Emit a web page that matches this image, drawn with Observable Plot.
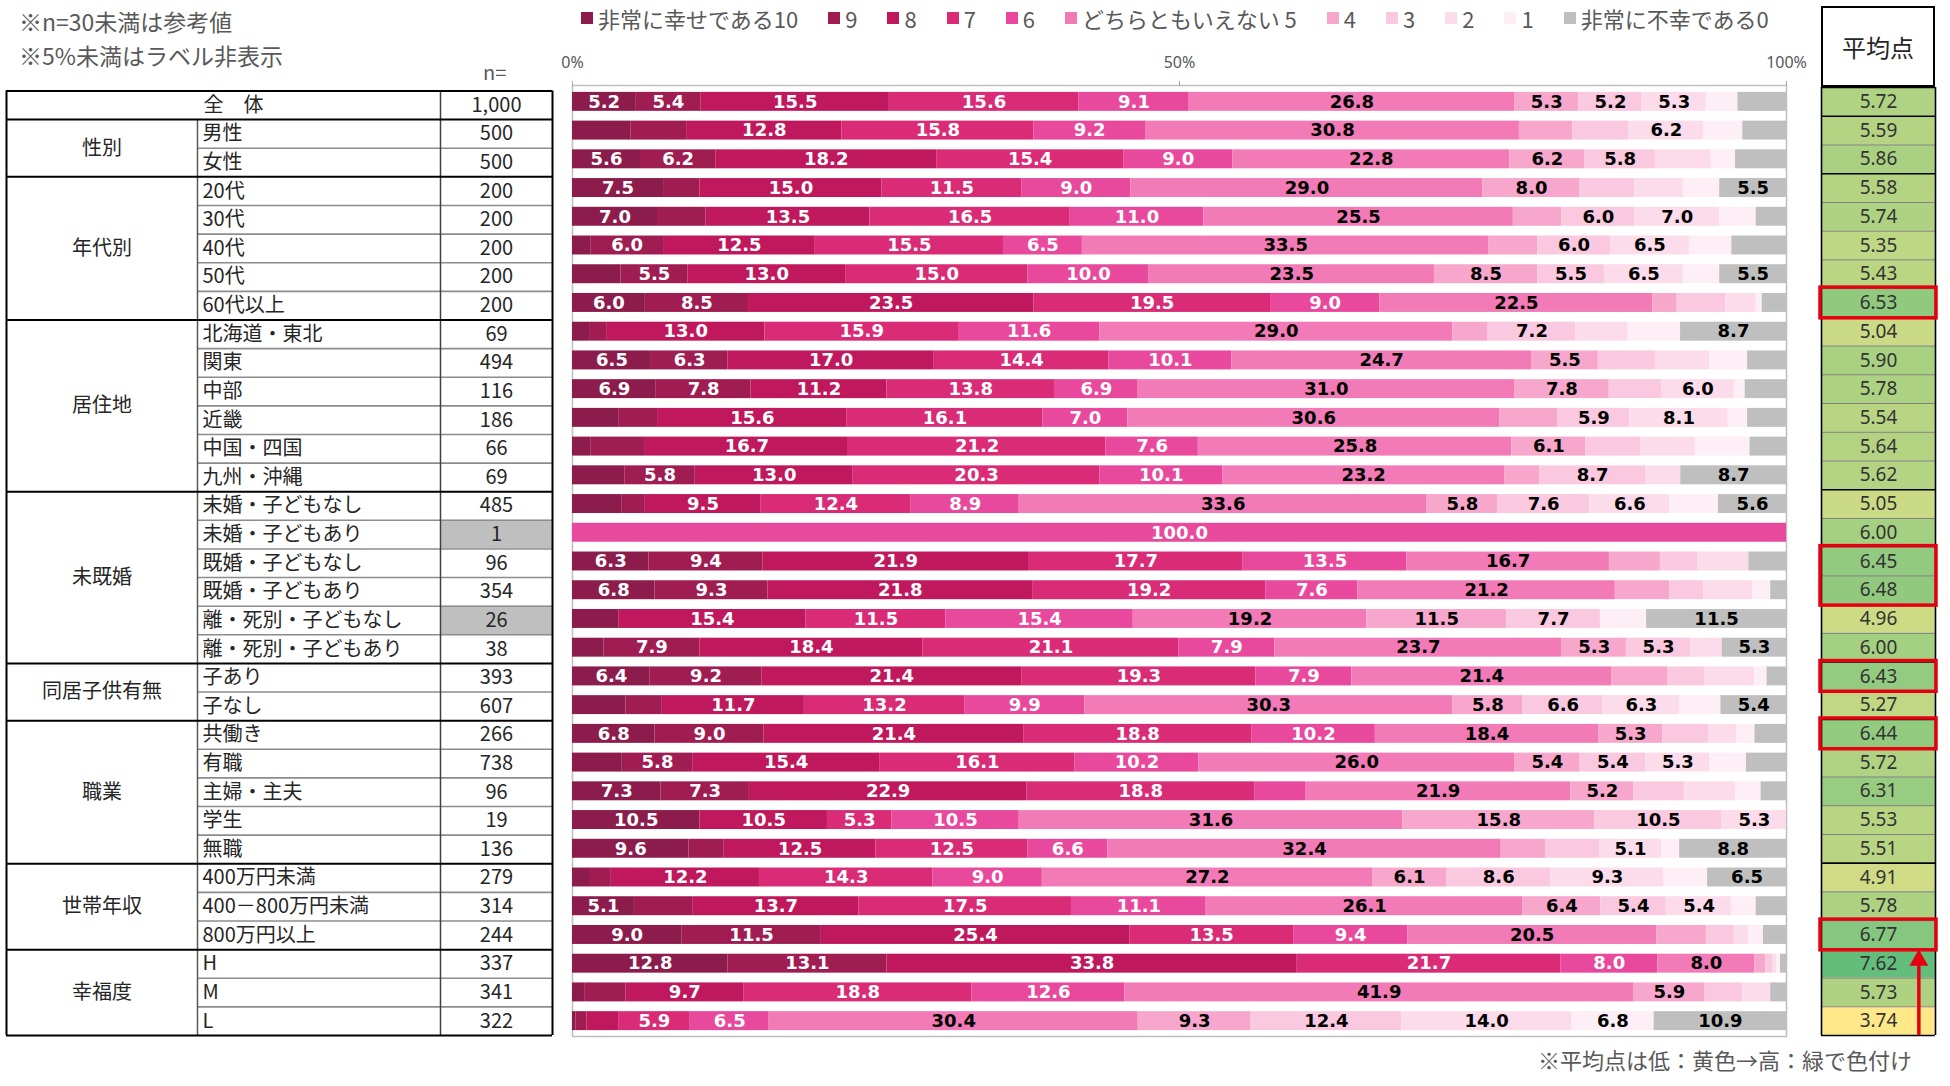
<!DOCTYPE html>
<html><head><meta charset="utf-8">
<script src="https://cdn.jsdelivr.net/npm/d3@7"></script>
<script src="https://cdn.jsdelivr.net/npm/@observablehq/plot@0.6"></script>
<style>
body{margin:0;background:#fff;}
#wrap{position:relative;width:1950px;height:1086px;overflow:hidden;background:#fff;font-family:"Noto Sans CJK JP",sans-serif;}
#wrap svg{position:absolute;left:0;top:0;}
.txt{position:absolute;color:#595959;white-space:nowrap;line-height:1;}
#legend{position:absolute;left:581px;top:7px;display:flex;align-items:center;font-size:22px;color:#595959;white-space:nowrap;line-height:1;gap:30px;}
#legend .it{display:flex;align-items:center;}
#legend .sw{width:12px;height:12px;margin-right:5px;}
#mhead{position:absolute;left:1821px;top:6px;width:110px;height:77px;border:2px solid #000;display:flex;align-items:center;justify-content:center;font-size:24px;color:#262626;background:#fff;}
</style></head>
<body><div id="wrap"></div>
<script>
// ---------- data ----------
const rows = ["全　体","男性","女性","20代","30代","40代","50代","60代以上","北海道・東北","関東","中部","近畿","中国・四国","九州・沖縄","未婚・子どもなし","未婚・子どもあり","既婚・子どもなし","既婚・子どもあり","離・死別・子どもなし","離・死別・子どもあり","子あり","子なし","共働き","有職","主婦・主夫","学生","無職","400万円未満","400－800万円未満","800万円以上","H","M","L"];
const groupNames = ["性別","年代別","居住地","未既婚","同居子供有無","職業","世帯年収","幸福度"];
const groupSizes = [2,5,6,6,2,5,3,3];
const nValues = [1000,500,500,200,200,200,200,200,69,494,116,186,66,69,485,1,96,354,26,38,393,607,266,738,96,19,136,279,314,244,337,341,322];
const means = [5.72,5.59,5.86,5.58,5.74,5.35,5.43,6.53,5.04,5.90,5.78,5.54,5.64,5.62,5.05,6.00,6.45,6.48,4.96,6.00,6.43,5.27,6.44,5.72,6.31,5.53,5.51,4.91,5.78,6.77,7.62,5.73,3.74];
const shadedRows = ["未婚・子どもあり","離・死別・子どもなし"];
const highlightRows = ["60代以上","既婚・子どもなし","既婚・子どもあり","子あり","共働き","800万円以上"];
const scoreLabels = ["非常に幸せである10","9","8","7","6","どちらともいえない 5","4","3","2","1","非常に不幸である0"];
const axisTicks = [0,50,100];
// shares (%) per row, score 10 → 0
const dist = [
 [5.2,5.4,15.5,15.6,9.1,26.8,5.3,5.2,5.3,2.6,4.0],
 [4.8,4.6,12.8,15.8,9.2,30.8,4.4,4.6,6.2,3.2,3.6],
 [5.6,6.2,18.2,15.4,9.0,22.8,6.2,5.8,4.6,2.0,4.2],
 [7.5,3.0,15.0,11.5,9.0,29.0,8.0,4.5,4.0,3.0,5.5],
 [7.0,4.0,13.5,16.5,11.0,25.5,4.0,6.0,7.0,3.0,2.5],
 [1.5,6.0,12.5,15.5,6.5,33.5,4.0,6.0,6.5,3.5,4.5],
 [4.0,5.5,13.0,15.0,10.0,23.5,8.5,5.5,6.5,3.0,5.5],
 [6.0,8.5,23.5,19.5,9.0,22.5,2.0,4.0,2.5,0.5,2.0],
 [1.4,1.4,13.0,15.9,11.6,29.0,2.9,7.2,4.3,4.3,8.7],
 [6.5,6.3,17.0,14.4,10.1,24.7,5.5,4.7,4.5,3.1,3.2],
 [6.9,7.8,11.2,13.8,6.9,31.0,7.8,4.3,6.0,0.9,3.4],
 [3.8,3.2,15.6,16.1,7.0,30.6,4.8,5.9,8.1,1.6,3.2],
 [1.5,4.5,16.7,21.2,7.6,25.8,6.1,4.5,4.5,4.5,3.0],
 [4.3,5.8,13.0,20.3,10.1,23.2,2.9,8.7,2.9,0,8.7],
 [4.1,1.9,9.5,12.4,8.9,33.6,5.8,7.6,6.6,4.0,5.6],
 [0,0,0,0,100,0,0,0,0,0,0],
 [6.3,9.4,21.9,17.7,13.5,16.7,4.2,3.1,4.2,0,3.1],
 [6.8,9.3,21.8,19.2,7.6,21.2,4.5,2.8,4.0,1.5,1.3],
 [3.8,0,15.4,11.5,15.4,19.2,11.5,7.7,0,3.8,11.5],
 [2.6,7.9,18.4,21.1,7.9,23.7,5.3,5.3,2.6,0,5.3],
 [6.4,9.2,21.4,19.3,7.9,21.4,4.6,3.1,4.1,1.0,1.6],
 [4.4,3.0,11.7,13.2,9.9,30.3,5.8,6.6,6.3,3.4,5.4],
 [6.8,9.0,21.4,18.8,10.2,18.4,5.3,3.8,2.3,1.5,2.6],
 [4.1,5.8,15.4,16.1,10.2,26.0,5.4,5.4,5.3,3.0,3.3],
 [7.3,7.3,22.9,18.8,4.2,21.9,5.2,4.2,4.2,2.1,2.1],
 [10.5,0,10.5,5.3,10.5,31.6,15.8,10.5,5.3,0,0],
 [9.6,2.9,12.5,12.5,6.6,32.4,3.7,4.4,5.1,1.5,8.8],
 [1.4,1.8,12.2,14.3,9.0,27.2,6.1,8.6,9.3,3.6,6.5],
 [5.1,4.8,13.7,17.5,11.1,26.1,6.4,5.4,5.4,2.0,2.5],
 [9.0,11.5,25.4,13.5,9.4,20.5,4.1,2.3,1.2,1.2,1.9],
 [12.8,13.1,33.8,21.7,8.0,8.0,0.9,0.6,0.3,0.3,0.5],
 [1.0,3.4,9.7,18.8,12.6,41.9,5.9,3.1,2.3,0,1.3],
 [0.3,0.9,2.6,5.9,6.5,30.4,9.3,12.4,14.0,6.8,10.9]
];

// ---------- styles / layout ----------
const palette = ["#8c1c4b","#a01d52","#c0185c","#d92b76","#e9499c","#f27ab7","#f7a7cc","#fac8df","#fcdcea","#feeef5","#bfbfbf"];
const RED = "#e50012";
const N = rows.length;
const wrap = document.getElementById("wrap");

// derived structures
const groups = [];
let start = 1;
groupNames.forEach((g,k)=>{ groups.push({name:g, start, size:groupSizes[k]}); start += groupSizes[k]; });
const groupBounds = [0, ...groups.map(g=>g.start), N];
const innerBounds = d3.range(1, N).filter(b => !groupBounds.includes(b));
const table = rows.map((r,i)=>({i, label:r, n:nValues[i], mean:means[i]}));

// ---------- notes / legend ----------
function addText(txt, css){ const d=document.createElement("div"); d.className="txt"; d.textContent=txt; Object.assign(d.style, css); wrap.appendChild(d); return d; }
addText("※n=30未満は参考値", {left:"19px", top:"10px", fontSize:"23px"});
addText("※5%未満はラベル非表示", {left:"19px", top:"44px", fontSize:"23px"});
addText("n=", {left:"483px", top:"62px", fontSize:"20px"});
addText("※平均点は低：黄色→高：緑で色付け", {right:"38px", top:"1048px", fontSize:"22px"});

const leg = document.createElement("div"); leg.id="legend";
scoreLabels.forEach((s,k)=>{
  const it=document.createElement("div"); it.className="it";
  const sw=document.createElement("div"); sw.className="sw"; sw.style.background=palette[k];
  const t=document.createElement("span"); t.textContent=s;
  it.appendChild(sw); it.appendChild(t); leg.appendChild(it);
});
wrap.appendChild(leg);

// ---------- table (left) ----------
const c0=6, c1=197, c2=440, c3=552;
const tFont = {fontFamily:"Noto Sans CJK JP", fontSize:20, fill:"#262626"};
const tablePlot = Plot.plot({
  width:1950, height:1086, margin:0,
  style:{background:"transparent", overflow:"visible"},
  x:{type:"identity", axis:null},
  y:{domain:[0,N], range:[90.5,1035], axis:null},
  marks:[
    Plot.rect(table.filter(d=>shadedRows.includes(d.label)), {x1:c2, x2:c3, y1:d=>d.i, y2:d=>d.i+1, fill:"#bfbfbf"}),
    Plot.ruleY(innerBounds, {x1:c1, x2:c3, stroke:"#8c8c8c", strokeWidth:1.6}),
    Plot.ruleX([c1], {y1:1, y2:N, stroke:"#595959", strokeWidth:1.5}),
    Plot.ruleX([c2], {y1:0, y2:N, stroke:"#404040", strokeWidth:1.5}),
    Plot.ruleY(groupBounds, {x1:c0, x2:c3, stroke:"#000", strokeWidth:2}),
    Plot.ruleX([c0,c3], {y1:0, y2:N, stroke:"#000", strokeWidth:2}),
    Plot.text(groups, {x:(c0+c1)/2, y:d=>d.start+d.size/2, text:"name", ...tFont}),
    Plot.text(table.slice(0,1), {x:(c0+c2)/2+10, y:d=>d.i+0.5, text:"label", ...tFont}),
    Plot.text(table.slice(1), {x:c1+5, y:d=>d.i+0.5, text:"label", textAnchor:"start", ...tFont}),
    Plot.text(table, {x:(c2+c3)/2, y:d=>d.i+0.5, text:d=>d3.format(",")(d.n), ...tFont})
  ]
});
wrap.appendChild(tablePlot);

// ---------- stacked bars ----------
const segs = [];
dist.forEach((vals,i)=>{
  const tot = d3.sum(vals); let c=0;
  vals.forEach((v,k)=>{ if(v>0){ segs.push({i, k, score:scoreLabels[k], v, x1:c/tot*100, x2:(c+v)/tot*100}); } c+=v; });
});
const lab = segs.filter(d=>d.v>=5);
const lFont = {fontFamily:"DejaVu Sans", fontWeight:"bold", fontSize:18};
const barPlot = Plot.plot({
  width:1950, height:1086,
  marginLeft:572, marginRight:164, marginTop:85, marginBottom:50,
  style:{background:"transparent", overflow:"visible"},
  x:{domain:[0,100]},
  y:{domain:[0,N], range:[87,1035], axis:null},
  color:{domain:scoreLabels, range:palette},
  marks:[
    Plot.frame({stroke:"#bfbfbf", strokeWidth:1.5}),
    Plot.axisX({anchor:"top", ticks:axisTicks, tickFormat:d=>d+"%", tickSize:5, tickPadding:13, fontSize:16, fontFamily:"Noto Sans", color:"#595959", stroke:"#a6a6a6"}),
    Plot.rect(segs, {x1:"x1", x2:"x2", y1:d=>d.i+0.17, y2:d=>d.i+0.83, fill:"score"}),
    Plot.text(lab.filter(d=>d.k<=4), {x:d=>(d.x1+d.x2)/2, y:d=>d.i+0.5, text:d=>d.v.toFixed(1), fill:"white", ...lFont}),
    Plot.text(lab.filter(d=>d.k>4), {x:d=>(d.x1+d.x2)/2, y:d=>d.i+0.5, text:d=>d.v.toFixed(1), fill:"black", ...lFont})
  ]
});
wrap.appendChild(barPlot);

// ---------- mean column ----------
const runs = [];
table.forEach(d=>{
  if(!highlightRows.includes(d.label)) return;
  const last = runs[runs.length-1];
  if(last && last.end===d.i-1) last.end=d.i; else runs.push({start:d.i, end:d.i});
});
const bottomRow = table[table.length-1].i + 1;
const meanPlot = Plot.plot({
  width:1950, height:1086,
  marginLeft:1821, marginRight:15, marginTop:87, marginBottom:51,
  style:{background:"transparent", overflow:"visible"},
  x:{domain:[0,1], axis:null},
  y:{domain:[0,N], range:[87,1035], axis:null},
  color:{type:"linear", domain:[d3.min(means), d3.max(means)], range:["#ffe88a","#63be7b"]},
  marks:[
    Plot.rect(table, {x1:0, x2:1, y1:d=>d.i, y2:d=>d.i+1, fill:"mean"}),
    Plot.ruleY(innerBounds, {stroke:"#7f7f7f", strokeWidth:1}),
    Plot.ruleY(groupBounds, {stroke:"#000", strokeWidth:1.6}),
    Plot.ruleX([0,1], {stroke:"#000", strokeWidth:1.6}),
    Plot.text(table, {x:0.5, y:d=>d.i+0.5, text:d=>d.mean.toFixed(2), fontFamily:"Noto Sans", fontSize:19, fill:"#333"}),
    Plot.rect(runs, {x1:0, x2:1, y1:"start", y2:d=>d.end+1, stroke:RED, strokeWidth:3.5, fill:"none", inset:-1}),
    Plot.ruleX([0.854], {y1:bottomRow, y2:30.5, stroke:RED, strokeWidth:3.5}),
    Plot.dot([0.854], {x:d=>d, y:30, dy:11, symbol:"triangle", r:7, fill:RED, stroke:"none"})
  ]
});
wrap.appendChild(meanPlot);

const mh = document.createElement("div"); mh.id="mhead"; mh.textContent="平均点"; wrap.appendChild(mh);
</script>
</body></html>
